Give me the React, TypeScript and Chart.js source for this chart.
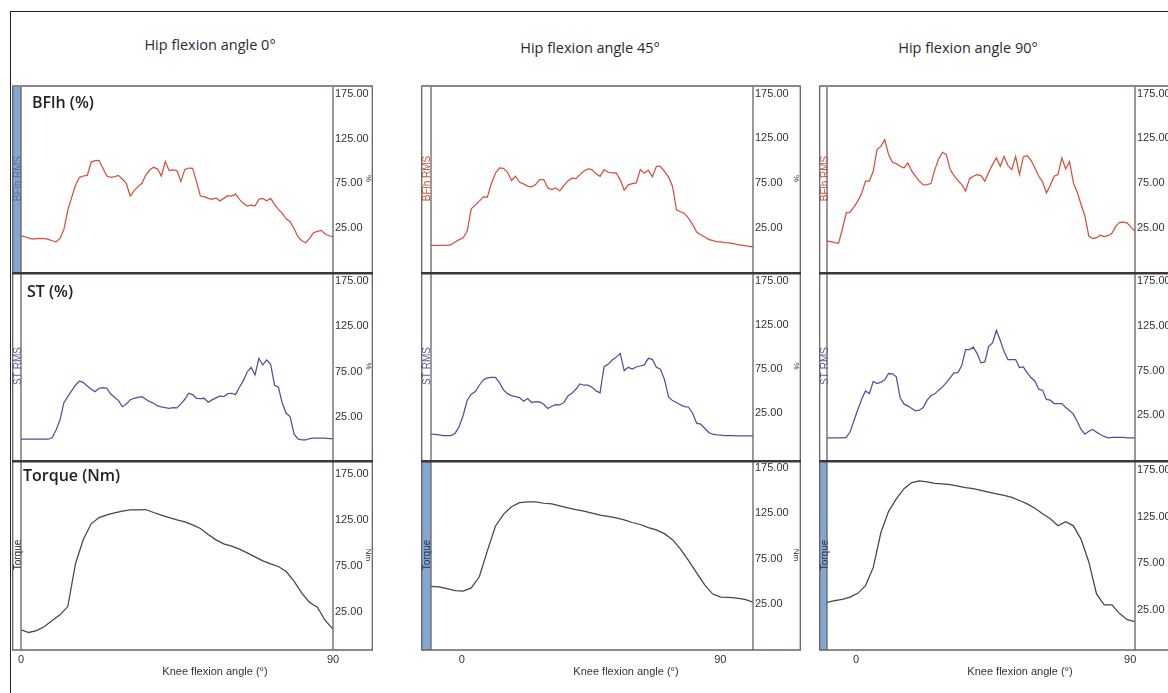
import React, { useEffect, useRef } from "react";
import { Chart, registerables } from "chart.js";

Chart.register(...registerables);
Chart.defaults.font.family = "'Liberation Sans', Arial, sans-serif";

// ---------------- texts ----------------
const columnTitles = ["Hip flexion angle 0°", "Hip flexion angle 45°", "Hip flexion angle 90°"];
const rowTitles = ["BFlh (%)", "ST (%)", "Torque (Nm)"];
const channelLabels = ["BFlh RMS", "ST RMS", "Torque"];
const unitLabels = ["%", "%", "Nm"];
const xAxisTitle = "Knee flexion angle (°)";
const yTickValues = [25, 75, 125, 175];
const xTickValues = [0, 90];

// knee-angle span covered by each recording (first / last sample)
const angleSpan0 = [0, 90];
const angleSpan45 = [-10.7, 101.4];
const angleSpan90 = [-9.5, 91.6];

// y ranges of each panel (BFlh, ST, Torque)
const yRange0 = [[-24, 185], [-22, 184.5], [-16, 190]];
const yRange45 = [[-25, 185], [-28, 185], [-26, 184]];
const yRange90 = [[-25, 185], [-25, 185], [-18, 185.5]];

// ---------------- series ----------------
const bflh0 = [16.5, 15.4, 13.9, 12.8, 13.2, 13.5, 13.2, 12.4, 10.9, 9.8,
  13.5, 23.6, 45.2, 59.4, 73.2, 81.8, 83.3, 84.0, 98.9, 100.4,
  100.8, 91.9, 83.3, 81.8, 82.5, 84.0, 79.6, 75.1, 60.9, 66.9,
  71.4, 75.1, 84.4, 90.0, 93.0, 91.1, 83.3, 99.3, 89.3, 90.0,
  89.3, 77.0, 90.7, 92.2, 91.9, 77.0, 60.9, 60.2, 58.3, 57.2,
  58.7, 55.3, 58.3, 61.3, 60.9, 63.1, 57.2, 52.7, 49.7, 50.8,
  49.7, 57.2, 58.3, 55.7, 58.3, 51.6, 46.0, 41.5, 35.5, 32.2,
  24.7, 15.4, 10.9, 8.7, 13.5, 19.9, 21.4, 22.5, 18.4, 16.5,
  15.4];
const st0 = [0.8, 0.8, 0.8, 0.8, 0.8, 0.8, 0.8, 0.8, 2.6, 11.0,
  22.0, 41.0, 47.6, 54.2, 60.4, 64.8, 63.0, 59.3, 55.7, 53.1,
  56.8, 57.5, 56.8, 50.5, 46.9, 43.2, 36.6, 39.6, 44.0, 45.8,
  46.9, 47.6, 44.7, 42.1, 40.3, 37.4, 36.3, 35.5, 34.8, 35.5,
  35.2, 39.6, 44.7, 51.3, 49.8, 45.8, 45.4, 45.8, 41.4, 44.0,
  46.2, 48.4, 47.6, 50.9, 51.3, 49.8, 57.9, 65.2, 74.7, 79.8,
  71.4, 89.7, 82.4, 87.9, 83.5, 60.4, 57.9, 40.3, 29.3, 25.7,
  6.6, 1.1, 0.0, 0.0, 1.5, 1.9, 1.9, 1.9, 1.9, 1.5,
  1.5];
const torque0 = [5.8, 3.0, 5.1, 9.5, 16.0, 22.1, 31.1, 78.1, 104.1, 120.8,
  127.6, 130.5, 132.7, 134.5, 135.9, 135.9, 136.3, 133.1, 130.2, 127.6,
  125.1, 122.9, 119.7, 115.7, 109.2, 103.4, 99.1, 96.6, 93.3, 89.3,
  85.0, 80.7, 77.4, 74.5, 69.1, 58.6, 45.6, 35.5, 30.4, 16.0,
  6.6];

const bflh45 = [5.0, 5.0, 5.0, 5.0, 5.0, 5.7, 8.7, 11.3, 13.5, 21.0,
  46.0, 50.1, 54.6, 59.4, 59.0, 74.3, 85.9, 91.9, 91.5, 87.0,
  77.7, 82.5, 75.8, 73.9, 71.4, 70.6, 73.2, 78.8, 78.8, 69.5,
  67.6, 69.5, 66.1, 72.1, 77.3, 80.3, 79.9, 84.4, 88.5, 90.7,
  90.0, 85.2, 82.5, 90.0, 87.0, 86.3, 86.3, 78.8, 66.9, 72.9,
  74.3, 75.1, 90.0, 85.9, 89.3, 81.8, 93.7, 93.7, 88.1, 81.8,
  71.4, 44.9, 42.6, 40.8, 35.2, 28.5, 19.9, 16.9, 14.3, 11.7,
  10.2, 9.1, 8.7, 7.9, 7.6, 6.8, 6.1, 5.3, 4.6, 3.8,
  3.1];
const st45 = [1.2, 0.9, 0.5, -0.3, -0.3, -0.3, 2.4, 9.9, 22.7, 39.7,
  46.5, 49.5, 56.7, 62.7, 65.0, 65.7, 65.7, 59.7, 51.4, 47.2,
  45.0, 43.8, 42.7, 38.6, 41.6, 37.1, 38.2, 37.8, 35.2, 30.3,
  32.9, 34.8, 34.4, 37.1, 44.6, 47.6, 52.1, 58.2, 56.7, 56.7,
  54.4, 50.3, 48.0, 77.8, 80.4, 85.3, 88.3, 92.8, 73.3, 77.0,
  75.1, 77.4, 78.5, 79.7, 87.2, 86.1, 77.0, 74.8, 63.4, 43.8,
  39.3, 37.1, 34.4, 32.5, 31.8, 25.0, 13.7, 12.6, 8.0, 3.1,
  1.2, 0.5, 0.1, -0.3, -0.3, -0.3, -0.6, -0.6, -0.6, -0.6,
  -0.6];
const torque45 = [44.4, 43.7, 41.8, 39.6, 39.2, 42.6, 54.9, 83.6, 110.8, 123.9,
  132.4, 136.9, 137.7, 137.7, 136.2, 135.4, 133.2, 131.0, 129.1, 127.6,
  125.4, 123.1, 121.6, 120.1, 117.9, 114.9, 112.7, 109.3, 106.7, 102.6,
  95.9, 85.4, 72.8, 59.3, 45.9, 35.8, 32.5, 32.1, 31.4, 29.9,
  26.9];

const bflh90 = [9.8, 9.1, 7.9, 7.2, 23.6, 41.5, 42.3, 48.2, 54.6, 63.1,
  77.0, 77.0, 88.1, 112.4, 116.1, 123.6, 106.8, 98.2, 96.7, 93.7,
  91.9, 97.5, 88.5, 82.5, 77.0, 72.8, 73.2, 74.3, 90.0, 101.9,
  109.4, 106.8, 90.0, 83.3, 77.7, 73.2, 65.8, 79.6, 82.5, 84.4,
  83.3, 77.0, 87.0, 95.6, 103.1, 93.7, 104.9, 94.5, 90.0, 104.9,
  84.4, 104.2, 105.7, 100.4, 91.9, 82.5, 76.2, 63.9, 72.5, 82.5,
  84.4, 103.1, 90.7, 98.9, 75.1, 64.6, 50.8, 37.8, 15.4, 12.4,
  13.5, 16.2, 14.7, 15.8, 18.4, 26.2, 30.7, 31.1, 29.9, 25.1,
  21.0];
const st90 = [-0.2, -0.2, -0.2, -0.2, -0.2, 0.2, 6.5, 18.8, 31.4, 42.9,
  52.2, 49.3, 62.7, 60.4, 61.9, 64.5, 71.6, 71.2, 67.9, 44.4,
  37.4, 35.5, 32.5, 29.9, 30.6, 33.6, 41.8, 46.7, 48.9, 53.0,
  56.7, 61.5, 67.1, 72.3, 72.7, 80.5, 98.4, 98.4, 101.0, 93.9,
  83.5, 84.6, 102.1, 105.8, 119.9, 108.8, 96.1, 87.2, 87.2, 87.2,
  78.3, 79.0, 72.3, 67.1, 63.0, 54.1, 53.0, 42.6, 41.8, 38.1,
  38.1, 38.1, 33.6, 30.3, 26.2, 18.0, 9.1, 3.9, 7.2, 9.1,
  6.1, 3.5, 1.3, -0.2, 0.2, 0.2, 0.2, 0.2, -0.2, -0.2,
  -0.2];
const torque90 = [33.0, 34.8, 36.2, 38.7, 42.7, 51.0, 70.2, 107.8, 130.5, 143.9,
  154.8, 161.3, 163.1, 162.0, 160.5, 159.8, 159.1, 157.6, 155.8, 154.8,
  153.0, 151.1, 149.3, 147.5, 145.4, 142.1, 138.5, 133.8, 128.0, 122.6,
  115.0, 119.3, 115.0, 100.5, 76.3, 42.0, 30.4, 30.4, 21.0, 14.5,
  12.4];

// ---------------- layout / styles ----------------
const RED = "#d5503e";
const BLUE = "#50509e";
const DARK = "#4a4444";
const STRIP = "#82a7d2";

const COLS = [
  { left: 12, plotLeft: 21, plotRight: 333, right: 373, titleX: 210, titleTop: 38, xTitleX: 215 },
  { left: 421, plotLeft: 431, plotRight: 753, right: 801, titleX: 590, titleTop: 41, xTitleX: 626 },
  { left: 819, plotLeft: 827, plotRight: 1135, right: 1176, titleX: 968, titleTop: 41, xTitleX: 1020 },
];
const ROWS = [
  { top: 85, bottom: 272 },
  { top: 272, bottom: 460 },
  { top: 460, bottom: 650 },
];
const X_AXIS_H = 28;

const columnsData = [
  { span: angleSpan0, ranges: yRange0, series: [bflh0, st0, torque0], strips: [true, false, false], labelColors: ["#5a6f96", "#5858a8", "#222222"] },
  { span: angleSpan45, ranges: yRange45, series: [bflh45, st45, torque45], strips: [false, false, true], labelColors: [RED, "#5858a8", "#2a3148"] },
  { span: angleSpan90, ranges: yRange90, series: [bflh90, st90, torque90], strips: [false, false, true], labelColors: [RED, "#5858a8", "#2a3148"] },
];
const lineColors = [RED, BLUE, DARK];

type PanelProps = {
  left: number; top: number; width: number; height: number;
  stripW: number; boxW: number;
  span: number[]; yRange: number[]; values: number[];
  color: string; strip: boolean; label: string; labelColor: string; unit: string;
  showX: boolean; row: number;
};

function Panel(p: PanelProps) {
  const ref = useRef<HTMLCanvasElement | null>(null);
  useEffect(() => {
    const canvas = ref.current;
    if (!canvas) return;
    const n = p.values.length;
    const points = p.values.map((v, i) => ({ x: p.span[0] + ((p.span[1] - p.span[0]) * i) / (n - 1), y: v }));
    const frame = {
      id: "frame",
      afterDraw(chart: any) {
        const { ctx, chartArea: ca, width: w } = chart;
        ctx.save();
        ctx.strokeStyle = "#6a6262";
        ctx.lineWidth = 1.3;
        ctx.beginPath();
        ctx.moveTo(0.7, 0); ctx.lineTo(0.7, ca.bottom);
        ctx.moveTo(ca.left, 0); ctx.lineTo(ca.left, ca.bottom);
        ctx.moveTo(ca.right, 0); ctx.lineTo(ca.right, ca.bottom);
        ctx.moveTo(w - 0.7, 0); ctx.lineTo(w - 0.7, ca.bottom);
        ctx.stroke();
        const tw = p.row === 0 ? 2 : 2.5;
        ctx.strokeStyle = p.row === 0 ? "#8e8787" : "#3f3737";
        ctx.lineWidth = tw;
        ctx.beginPath();
        ctx.moveTo(0, tw / 2); ctx.lineTo(w, tw / 2);
        ctx.stroke();
        if (p.showX) {
          ctx.strokeStyle = "#6a6262";
          ctx.lineWidth = 1.5;
          ctx.beginPath();
          ctx.moveTo(0, ca.bottom); ctx.lineTo(w, ca.bottom);
          ctx.stroke();
        }
        ctx.restore();
      },
    };
    const chart = new Chart(canvas, {
      type: "line",
      data: {
        datasets: [{
          data: points,
          borderColor: p.color,
          borderWidth: 1.25,
          pointRadius: 0,
          fill: false,
          tension: 0,
          xAxisID: "x",
          yAxisID: "y",
        }],
      },
      options: {
        animation: false,
        responsive: false,
        maintainAspectRatio: false,
        devicePixelRatio: 1,
        events: [],
        layout: { padding: 0 },
        plugins: { legend: { display: false }, tooltip: { enabled: false }, title: { display: false } },
        scales: {
          x: {
            type: "linear",
            min: p.span[0],
            max: p.span[1],
            display: p.showX,
            position: "bottom",
            grid: { display: false, drawTicks: false },
            border: { display: false },
            ticks: {
              autoSkip: false, maxRotation: 0, padding: 3, color: "#333",
              font: { size: 11 },
              callback: (v: any) => String(v),
            },
            afterBuildTicks: (s: any) => { s.ticks = xTickValues.map((v) => ({ value: v })); },
            afterFit: (s: any) => { s.height = p.showX ? X_AXIS_H : 0; s.paddingLeft = 0; s.paddingRight = 0; },
          },
          yl: {
            type: "linear",
            position: "left",
            display: true,
            backgroundColor: p.strip ? STRIP : undefined,
            grid: { display: false, drawTicks: false },
            border: { display: false },
            ticks: { display: false },
            title: { display: true, text: p.label, color: p.labelColor, font: { size: 10 }, padding: 0 },
            afterFit: (s: any) => { s.width = p.stripW; s.paddingTop = 0; s.paddingBottom = 0; },
          },
          y: {
            type: "linear",
            position: "right",
            min: p.yRange[0],
            max: p.yRange[1],
            grid: { display: false, drawTicks: false },
            border: { display: false },
            ticks: {
              autoSkip: false, padding: 2, color: "#333",
              font: { size: 11 },
              callback: (v: any) => Number(v).toFixed(2),
            },
            afterBuildTicks: (s: any) => { s.ticks = yTickValues.map((v) => ({ value: v })); },
            title: { display: true, text: p.unit, color: "#333", font: { size: 8 }, padding: 0 },
            afterFit: (s: any) => { s.width = p.boxW; s.paddingTop = 0; s.paddingBottom = 0; },
          },
        },
      } as any,
      plugins: [frame],
    });
    return () => chart.destroy();
  }, []);
  return (
    <canvas
      ref={ref}
      width={p.width}
      height={p.height}
      style={{ position: "absolute", left: p.left, top: p.top, width: p.width, height: p.height }}
    />
  );
}

const rowTitlePos = [
  { left: 32, top: 94 },
  { left: 27, top: 283 },
  { left: 23, top: 467 },
];

export default function App() {
  const panels: any[] = [];
  COLS.forEach((c, ci) => {
    const cd = columnsData[ci];
    ROWS.forEach((r, ri) => {
      const showX = ri === 2;
      panels.push(
        <Panel
          key={`${ci}-${ri}`}
          left={c.left}
          top={r.top}
          width={c.right - c.left}
          height={r.bottom - r.top + (showX ? X_AXIS_H : 0)}
          stripW={c.plotLeft - c.left}
          boxW={c.right - c.plotRight}
          span={cd.span}
          yRange={cd.ranges[ri]}
          values={cd.series[ri]}
          color={lineColors[ri]}
          strip={cd.strips[ri]}
          label={channelLabels[ri]}
          labelColor={cd.labelColors[ri]}
          unit={unitLabels[ri]}
          showX={showX}
          row={ri}
        />
      );
    });
  });
  return (
    <div style={{ position: "fixed", left: 0, top: 0, width: 1168, height: 693, overflow: "hidden", background: "#fff" }}>
      <div style={{ position: "absolute", left: 10, top: 11, width: 1200, height: 700, borderLeft: "1.3px solid #222", borderTop: "1.3px solid #222" }} />
      {columnTitles.map((t, i) => (
        <div key={t} style={{
          position: "absolute", left: COLS[i].titleX, top: COLS[i].titleTop, transform: "translateX(-50%)",
          fontFamily: "'Open Sans', sans-serif", fontSize: 14.5, fontWeight: 500, lineHeight: "14.5px",
          color: "#2b2b2b", whiteSpace: "nowrap",
        }}>{t}</div>
      ))}
      {panels}
      {rowTitles.map((t, i) => (
        <div key={t} style={{
          position: "absolute", left: rowTitlePos[i].left, top: rowTitlePos[i].top,
          fontFamily: "'Open Sans', sans-serif", fontSize: 16, fontWeight: 600, lineHeight: "16px",
          color: "#222", whiteSpace: "nowrap",
        }}>{t}</div>
      ))}
      {COLS.map((c, i) => (
        <div key={i} style={{
          position: "absolute", left: c.xTitleX, top: 666, transform: "translateX(-50%)",
          fontFamily: "'Liberation Sans', Arial, sans-serif", fontSize: 11, lineHeight: "11px",
          color: "#333", whiteSpace: "nowrap",
        }}>{xAxisTitle}</div>
      ))}
    </div>
  );
}
